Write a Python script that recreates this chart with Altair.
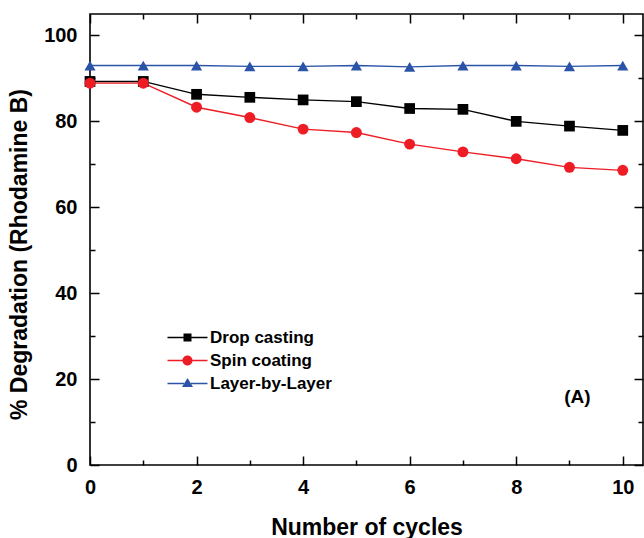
import altair as alt
import pandas as pd

cycles = [0, 1, 2, 3, 4, 5, 6, 7, 8, 9, 10]
drop_casting = [89.3, 89.3, 86.3, 85.6, 85.0, 84.6, 83.0, 82.8, 80.0, 78.9, 77.9]
spin_coating = [88.9, 88.9, 83.3, 80.9, 78.2, 77.4, 74.7, 72.9, 71.3, 69.3, 68.6]
layer_by_layer = [93.0, 93.0, 93.0, 92.8, 92.8, 93.0, 92.7, 93.0, 93.0, 92.8, 93.0]

series_names = ["Drop casting", "Spin coating", "Layer-by-Layer"]
series_colors = ["#000000", "#ee1c24", "#2b54a8"]
series_shapes = ["square", "circle", "triangle-up"]
series_sizes = [115, 125, 135]

x_major = [0, 2, 4, 6, 8, 10]
x_minor = [1, 3, 5, 7, 9]
y_major = [0, 20, 40, 60, 80, 100]
y_minor = [10, 30, 50, 70, 90]

panel_label = ["(A)"]
panel_label_x = [9.15]
panel_label_y = [15.8]

rows = []
for name, vals in zip(series_names, [drop_casting, spin_coating, layer_by_layer]):
    for c, v in zip(cycles, vals):
        rows.append({"cycle": c, "deg": v, "series": name})
df = pd.DataFrame(rows)

FONT = "Liberation Sans"

# legend symbols: line segment + marker
seg_sq = "M-4,-0.14H-0.8V0.14H-4Z M0.8,-0.14H4V0.14H0.8Z"
seg_ci = "M-4,-0.14H-0.9V0.14H-4Z M0.9,-0.14H4V0.14H0.9Z"
seg_tr = "M-4,-0.14H-0.7V0.14H-4Z M0.7,-0.14H4V0.14H0.7Z"
legend_paths = [
    seg_sq + " M-0.8,-0.8H0.8V0.8H-0.8Z",
    seg_ci + " M-1,0A1,1 0 1,1 1,0A1,1 0 1,1 -1,0Z",
    seg_tr + " M0,-1.1L1.1,0.7H-1.1Z",
]

xs = alt.Scale(domain=[0, 10.38], nice=False, zero=False)
ys = alt.Scale(domain=[0, 105], nice=False, zero=False)


def ax(orient, values, size, **kw):
    return alt.Axis(
        orient=orient, values=values, tickSize=size, offset=-size,
        domain=False, grid=False, ticks=True, tickColor="black",
        tickWidth=1.5, labelFlush=False, **kw
    )


label_style = dict(labelFont=FONT, labelFontSize=20, labelFontWeight="bold",
                   labelColor="black")
title_style = dict(titleFont=FONT, titleFontSize=23, titleFontWeight="bold",
                   titleColor="black")

base = alt.Chart(df)

color_scale = alt.Scale(domain=series_names, range=series_colors)

lines = base.mark_line(strokeWidth=1.4).encode(
    x=alt.X("cycle:Q", scale=xs,
            axis=ax("bottom", x_major, 9, labels=True, title="Number of cycles",
                    labelPadding=12, titlePadding=19, **label_style, **title_style)),
    y=alt.Y("deg:Q", scale=ys,
            axis=ax("left", y_major, 9, labels=True,
                    title="% Degradation (Rhodamine B)", titleY=240,
                    labelPadding=13, titlePadding=12, **label_style, **title_style)),
    color=alt.Color("series:N", scale=color_scale, legend=None),
)

pts = base.mark_point(filled=True, opacity=1).encode(
    x=alt.X("cycle:Q", scale=xs, axis=ax("top", x_major, 9, labels=False, title=None)),
    y=alt.Y("deg:Q", scale=ys, axis=ax("right", y_major, 9, labels=False, title=None)),
    color=alt.Color("series:N", scale=color_scale, legend=None),
    shape=alt.Shape("series:N", scale=alt.Scale(domain=series_names, range=series_shapes),
                    legend=None),
    size=alt.Size("series:N", scale=alt.Scale(domain=series_names, range=series_sizes),
                  legend=None),
)

minor1 = base.mark_point(opacity=0).encode(
    x=alt.X("cycle:Q", scale=xs, axis=ax("bottom", x_minor, 5, labels=False, title=None)),
    y=alt.Y("deg:Q", scale=ys, axis=ax("left", y_minor, 5, labels=False, title=None)),
)

minor2 = base.mark_point(opacity=0).encode(
    x=alt.X("cycle:Q", scale=xs, axis=ax("top", x_minor, 5, labels=False, title=None)),
    y=alt.Y("deg:Q", scale=ys, axis=ax("right", y_minor, 5, labels=False, title=None)),
)

leg_opts = dict(orient="none", legendX=89, legendY=315, title=None,
                labelFont=FONT, labelFontSize=17, labelFontWeight="bold",
                labelColor="black", symbolSize=100, labelOffset=14,
                rowPadding=5, padding=0, symbolStrokeWidth=0)

leg = base.transform_filter("false").mark_point(filled=True, opacity=1, size=100).encode(
    color=alt.Color("series:N", scale=alt.Scale(domain=series_names, range=series_colors),
                    legend=alt.Legend(**leg_opts)),
    shape=alt.Shape("series:N", scale=alt.Scale(domain=series_names, range=legend_paths),
                    legend=alt.Legend(**leg_opts)),
)

ann_df = pd.DataFrame({"x": panel_label_x, "y": panel_label_y, "t": panel_label})
ann = alt.Chart(ann_df).mark_text(font=FONT, fontSize=19, fontWeight="bold",
                                  color="black").encode(
    x=alt.X("x:Q", scale=xs, axis=None),
    y=alt.Y("y:Q", scale=ys, axis=None),
    text="t:N",
)

chart = alt.layer(lines, pts, minor1, minor2, leg, ann).resolve_axis(
    x="independent", y="independent"
).resolve_scale(
    color="independent", shape="independent", size="independent"
).properties(
    width=553, height=451,
    padding={"left": 90, "top": 14, "right": 1, "bottom": 73},
    autosize=alt.AutoSizeParams(type="none"),
    background="white",
).configure_view(stroke="black", strokeWidth=1.6)

chart.save("out.html", embed_options={"renderer": "svg", "actions": False})
